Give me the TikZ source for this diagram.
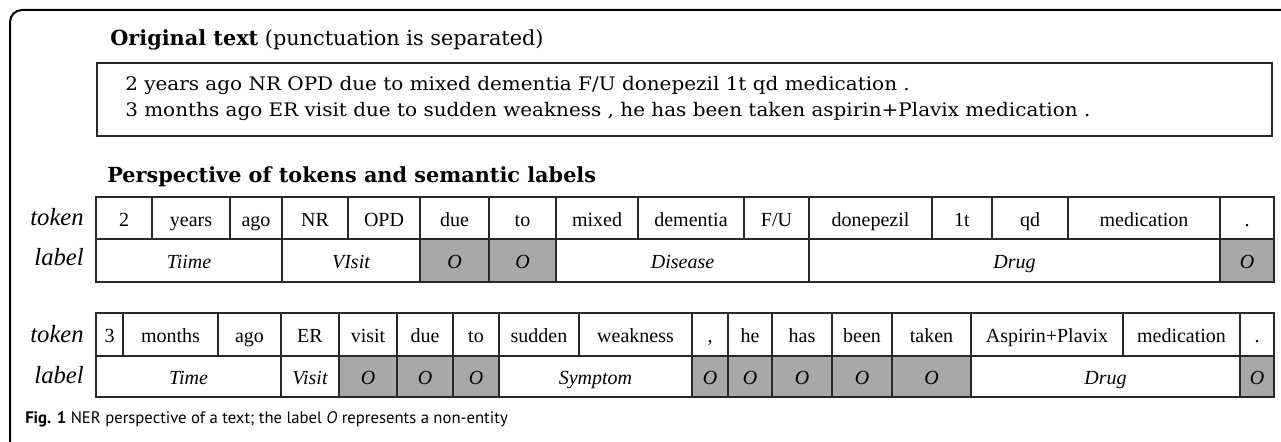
\documentclass[tikz,border=0pt]{standalone}
\usepackage{fontspec}
\setmainfont{Liberation Serif}
\newfontfamily\tabfont{Liberation Serif}[ItalicFont={Liberation Serif Italic}]
\newfontfamily\boxfont{DejaVu Serif}
\newfontfamily\capfont{PT Sans}
\definecolor{linec}{RGB}{40,40,40}
\definecolor{ogray}{RGB}{168,168,168}
\newcommand\tc[7]{%
  \pgfmathsetmacro\cw{(#3-#2)*0.75}%
  \pgfmathsetmacro\ch{#5*0.75}%
  \node[#6, minimum width=\cw pt, minimum height=\ch pt, anchor=north west] (#1) at (#2,#4) {#7};}
\tikzset{
  tok/.style={draw=linec, line width=1.1pt, inner sep=0pt, outer sep=0pt,
    font=\tabfont\fontsize{15}{18}\selectfont, text height=14pt, text depth=2pt},
  lab/.style={tok, font=\tabfont\fontsize{15}{18}\selectfont\itshape},
  olab/.style={lab, fill=ogray},
  rowname/.style={anchor=base east, inner sep=0pt, font=\tabfont\fontsize{18.5}{22}\selectfont\itshape},
  boxtext/.style={anchor=base west, inner sep=0pt, font=\boxfont\fontsize{14}{16}\selectfont},
  headtext/.style={anchor=base west, inner sep=0pt, font=\boxfont\fontsize{15.6}{18}\selectfont},
}
\begin{document}
\begin{tikzpicture}[x=0.75pt, y=-0.75pt]
\useasboundingbox (0,0) rectangle (1281,442);
% frame
\draw[line width=1.5pt, black, rounded corners=9pt] (10,445) -- (10,10) -- (1285,10);
% headings
\node[headtext] (h1) at (110,46) {\textbf{Original text} (punctuation is separated)};
\node[draw=linec, line width=1.1pt, inner sep=0pt, outer sep=0pt, minimum width=881.25pt, minimum height=54.75pt, anchor=north west] (box) at (97,63) {};
\node[boxtext] (l1) at (125,91) {\scalebox{1.07}[1]{2 years ago NR OPD due to mixed dementia F/U donepezil 1t qd medication .}};
\node[boxtext] (l2) at (125,117) {\scalebox{1.07}[1]{3 months ago ER visit due to sudden weakness , he has been taken aspirin+Plavix medication .}};
\node[headtext] (h2) at (107,183) {\textbf{Perspective of tokens and semantic labels}};
% table 1
\node[rowname] (rn1) at (84,225) {token};
\node[rowname] (rl1) at (84,265) {label};
\tc{a1}{96}{152}{197}{42}{tok}{2}
\tc{a2}{152}{230}{197}{42}{tok}{years}
\tc{a3}{230}{282}{197}{42}{tok}{ago}
\tc{a4}{282}{348}{197}{42}{tok}{NR}
\tc{a5}{348}{420}{197}{42}{tok}{OPD}
\tc{a6}{420}{489}{197}{42}{tok}{due}
\tc{a7}{489}{556}{197}{42}{tok}{to}
\tc{a8}{556}{638}{197}{42}{tok}{mixed}
\tc{a9}{638}{744}{197}{42}{tok}{dementia}
\tc{a10}{744}{809}{197}{42}{tok}{F/U}
\tc{a11}{809}{932}{197}{42}{tok}{donepezil}
\tc{a12}{932}{992}{197}{42}{tok}{1t}
\tc{a13}{992}{1068}{197}{42}{tok}{qd}
\tc{a14}{1068}{1220}{197}{42}{tok}{medication}
\tc{a15}{1220}{1274}{197}{42}{tok}{.}
\tc{b1}{96}{282}{239}{43}{lab}{Tiime}
\tc{b2}{282}{420}{239}{43}{lab}{VIsit}
\tc{b3}{420}{489}{239}{43}{olab}{O}
\tc{b4}{489}{556}{239}{43}{olab}{O}
\tc{b5}{556}{809}{239}{43}{lab}{Disease}
\tc{b6}{809}{1220}{239}{43}{lab}{Drug}
\tc{b7}{1220}{1274}{239}{43}{olab}{O}
% table 2
\node[rowname] (rn2) at (84,342) {token};
\node[rowname] (rl2) at (84,383) {label};
\tc{c1}{96}{123}{313}{43}{tok}{3}
\tc{c2}{123}{218}{313}{43}{tok}{months}
\tc{c3}{218}{281}{313}{43}{tok}{ago}
\tc{c4}{281}{339}{313}{43}{tok}{ER}
\tc{c5}{339}{397}{313}{43}{tok}{visit}
\tc{c6}{397}{453}{313}{43}{tok}{due}
\tc{c7}{453}{499}{313}{43}{tok}{to}
\tc{c8}{499}{579}{313}{43}{tok}{sudden}
\tc{c9}{579}{692}{313}{43}{tok}{weakness}
\tc{c10}{692}{728}{313}{43}{tok}{,}
\tc{c11}{728}{772}{313}{43}{tok}{he}
\tc{c12}{772}{832}{313}{43}{tok}{has}
\tc{c13}{832}{892}{313}{43}{tok}{been}
\tc{c14}{892}{971}{313}{43}{tok}{taken}
\tc{c15}{971}{1123}{313}{43}{tok}{Aspirin+Plavix}
\tc{c16}{1123}{1240}{313}{43}{tok}{medication}
\tc{c17}{1240}{1274}{313}{43}{tok}{.}
\tc{d1}{96}{281}{356}{41}{lab}{Time}
\tc{d2}{281}{339}{356}{41}{lab}{Visit}
\tc{d3}{339}{397}{356}{41}{olab}{O}
\tc{d4}{397}{453}{356}{41}{olab}{O}
\tc{d5}{453}{499}{356}{41}{olab}{O}
\tc{d6}{499}{692}{356}{41}{lab}{Symptom}
\tc{d7}{692}{728}{356}{41}{olab}{O}
\tc{d8}{728}{772}{356}{41}{olab}{O}
\tc{d9}{772}{832}{356}{41}{olab}{O}
\tc{d10}{832}{892}{356}{41}{olab}{O}
\tc{d11}{892}{971}{356}{41}{olab}{O}
\tc{d12}{971}{1240}{356}{41}{lab}{Drug}
\tc{d13}{1240}{1274}{356}{41}{olab}{O}
% caption
\node[anchor=base west, inner sep=0pt, font=\capfont\fontsize{12.5}{14}\selectfont] (cap) at (25,423) {\textbf{Fig. 1} NER perspective of a text; the label \textit{O} represents a non-entity};
\end{tikzpicture}
\end{document}
